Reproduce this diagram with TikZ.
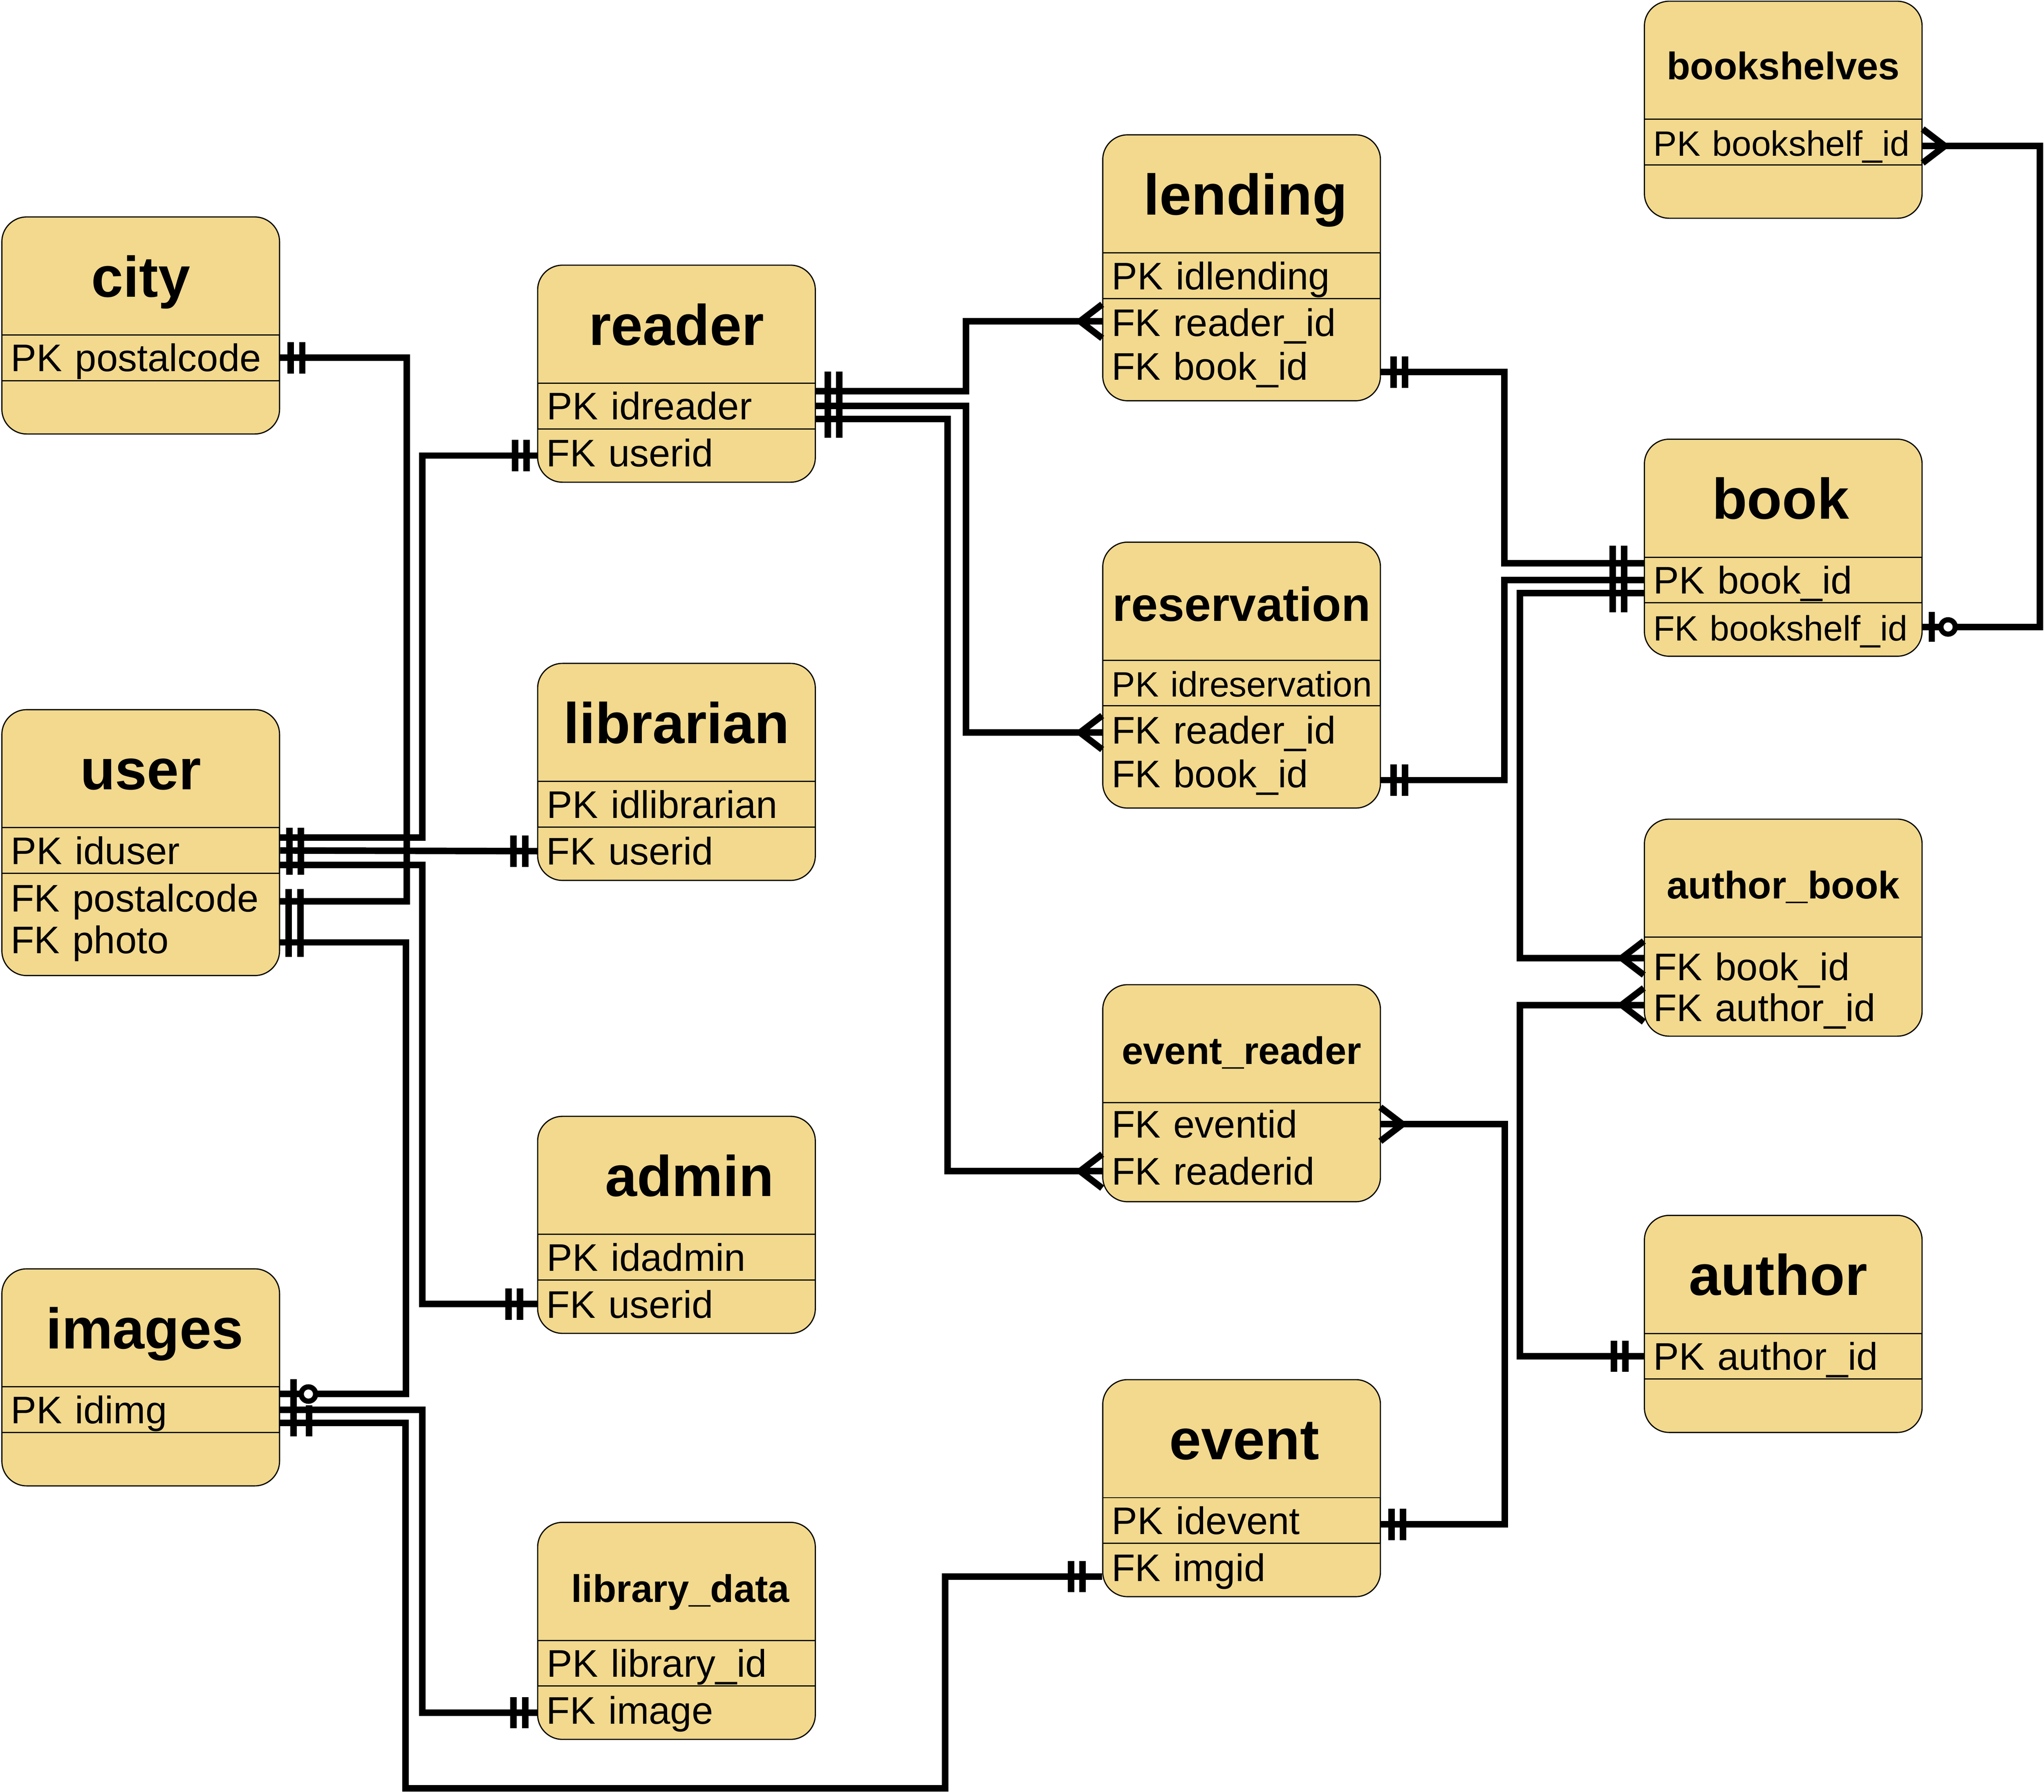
\documentclass[tikz,border=0pt]{standalone}
\usepackage{fontspec}
\setmainfont{Liberation Sans}
\usetikzlibrary{calc}
\definecolor{tabfill}{RGB}{242,217,142}
\newcommand\fieldfont{\fontsize{29.5}{34}\selectfont}
\newcommand\fieldfontnarrow{\fontsize{27}{32}\selectfont}
\newcommand\titlebig{\fontsize{44}{50}\selectfont\bfseries}
\newcommand\titlemid{\fontsize{36.7}{42}\selectfont\bfseries}
\newcommand\titlesmall{\fontsize{29.5}{34}\selectfont\bfseries}
\tikzset{
  tab/.style={draw, line width=0.9pt, fill=tabfill, rounded corners=19pt, minimum width=213pt, minimum height=166.5pt, anchor=north west, inner sep=0pt},
  fkrow/.style={anchor=west, text width=199pt, inner xsep=7pt, inner ysep=0pt, align=left, font=\fieldfont, text height=21.1pt, text depth=0pt},
  pkrow/.style={fkrow, draw, line width=0.9pt, minimum height=35pt},
  narrow/.style={font=\fieldfontnarrow},
  ttl/.style={inner sep=0pt, text depth=0pt},
  ttlbig/.style={ttl, font=\titlebig, text height=31.5pt},
  ttlmid/.style={ttl, font=\titlemid, text height=26.3pt},
  ttlsmall/.style={ttl, font=\titlesmall, text height=21.1pt},
  sepline/.style={line width=0.9pt},
  rel/.style={line width=5pt},
  endmark/.style={line width=5pt},
  pics/crowfoot/.style={code={\draw[endmark] (0,-13) -- (17,0) -- (0,13);}},
  pics/onebars/.style={code={\draw[endmark] (0,-#1) -- (0,#1) (9,-#1) -- (9,#1);}},
  pics/zeroone/.style={code={\draw[endmark] (0,-11.5) -- (0,11.5); \draw[endmark, line width=4pt, fill=white] (12.5,0) circle (5.5pt);}}
}
\begin{document}
\begin{tikzpicture}[x=1pt,y=-1pt]
\useasboundingbox (0,0) rectangle (1568,1374.6);

\node[tab] (city) at (1,166) {};
\node[ttlbig] (city-t) at ($(city.north)+(0,46)$) {city};
\node[pkrow] (city-pk) at ($(city.north west)+(0,108.5)$) {PK postalcode};

\node[tab] (reader) at (412,203) {};
\node[ttlbig] (reader-t) at ($(reader.north)+(0,46)$) {reader};
\node[pkrow] (reader-pk) at ($(reader.north west)+(0,108.5)$) {PK idreader};
\node[fkrow] (reader-fk) at ($(reader.north west)+(0,144.5)$) {FK userid};

\node[tab, minimum height=204pt] (user) at (1,544) {};
\node[ttlbig] (user-t) at ($(user.north)+(0,46)$) {user};
\node[pkrow] (user-pk) at ($(user.north west)+(0,108.5)$) {PK iduser};
\node[fkrow] (user-fk1) at ($(user.north west)+(0,145)$) {FK postalcode};
\node[fkrow] (user-fk2) at ($(user.north west)+(0,177)$) {FK photo};

\node[tab] (librarian) at (412,508.5) {};
\node[ttlbig] (librarian-t) at ($(librarian.north)+(0,46)$) {librarian};
\node[pkrow] (librarian-pk) at ($(librarian.north west)+(0,108.5)$) {PK idlibrarian};
\node[fkrow] (librarian-fk) at ($(librarian.north west)+(0,144.5)$) {FK userid};

\node[tab] (admin) at (412,856) {};
\node[ttlbig] (admin-t) at ($(admin.north)+(10,46)$) {admin};
\node[pkrow] (admin-pk) at ($(admin.north west)+(0,108.5)$) {PK idadmin};
\node[fkrow] (admin-fk) at ($(admin.north west)+(0,144.5)$) {FK userid};

\node[tab] (images) at (1,973) {};
\node[ttlbig] (images-t) at ($(images.north)+(3,46)$) {images};
\node[pkrow] (images-pk) at ($(images.north west)+(0,108.5)$) {PK idimg};

\node[tab] (libdata) at (412,1167.5) {};
\node[ttlsmall] (libdata-t) at ($(libdata.north)+(3,51)$) {library\_data};
\node[pkrow] (libdata-pk) at ($(libdata.north west)+(0,108.5)$) {PK library\_id};
\node[fkrow] (libdata-fk) at ($(libdata.north west)+(0,144.5)$) {FK image};

\node[tab, minimum height=204pt] (lending) at (845.5,103) {};
\node[ttlbig] (lending-t) at ($(lending.north)+(3,46)$) {lending};
\node[pkrow] (lending-pk) at ($(lending.north west)+(0,108.5)$) {PK idlending};
\node[fkrow] (lending-fk1) at ($(lending.north west)+(0,144.5)$) {FK reader\_id};
\node[fkrow] (lending-fk2) at ($(lending.north west)+(0,178)$) {FK book\_id};

\node[tab, minimum height=204pt] (reservation) at (845.5,415.5) {};
\node[ttlmid] (reservation-t) at ($(reservation.north)+(0,48)$) {reservation};
\node[pkrow, narrow] (reservation-pk) at ($(reservation.north west)+(0,108.5)$) {\mbox{PK idreservation}};
\node[fkrow] (reservation-fk1) at ($(reservation.north west)+(0,144.5)$) {FK reader\_id};
\node[fkrow] (reservation-fk2) at ($(reservation.north west)+(0,178)$) {FK book\_id};

\node[tab] (evreader) at (845.5,755) {};
\node[ttlsmall] (evreader-t) at ($(evreader.north)+(0,51)$) {event\_reader};
\draw[sepline] ($(evreader.north west)+(0,91)$) -- ++(213,0);
\node[fkrow] (evreader-fk1) at ($(evreader.north west)+(0,107.5)$) {FK eventid};
\node[fkrow] (evreader-fk2) at ($(evreader.north west)+(0,143.5)$) {FK readerid};

\node[tab] (event) at (845.5,1058) {};
\node[ttlbig] (event-t) at ($(event.north)+(2,46)$) {event};
\node[pkrow] (event-pk) at ($(event.north west)+(0,108.5)$) {PK idevent};
\node[fkrow] (event-fk) at ($(event.north west)+(0,144.5)$) {FK imgid};

\node[tab] (shelves) at (1261,0.5) {};
\node[ttlsmall] (shelves-t) at ($(shelves.north)+(0,50)$) {bookshelves};
\node[pkrow, narrow] (shelves-pk) at ($(shelves.north west)+(0,108.5)$) {\mbox{PK bookshelf\_id}};

\node[tab] (book) at (1261,336.5) {};
\node[ttlbig] (book-t) at ($(book.north)+(-2,46)$) {book};
\node[pkrow] (book-pk) at ($(book.north west)+(0,108.5)$) {PK book\_id};
\node[fkrow, narrow] (book-fk) at ($(book.north west)+(0,144.5)$) {\mbox{FK bookshelf\_id}};

\node[tab] (authbook) at (1261,628) {};
\node[ttlsmall] (authbook-t) at ($(authbook.north)+(0,51)$) {author\_book};
\draw[sepline] ($(authbook.north west)+(0,91)$) -- ++(213,0);
\node[fkrow] (authbook-fk1) at ($(authbook.north west)+(0,113.5)$) {FK book\_id};
\node[fkrow] (authbook-fk2) at ($(authbook.north west)+(0,145)$) {FK author\_id};

\node[tab] (author) at (1261,932) {};
\node[ttlbig] (author-t) at ($(author.north)+(-4,46)$) {author};
\node[pkrow] (author-pk) at ($(author.north west)+(0,108.5)$) {PK author\_id};

\draw[rel] (city-pk.east) -- ++(97,0) |- ($(user-fk1.east)+(0,2.5)$);
\draw[rel] ($(user-pk.east)+(0,-10)$) -- ++(109,0) |- ($(reader-fk.west)+(0,2)$);
\draw[rel] (user-pk.east) -- (librarian-fk.west);
\draw[rel] ($(user-pk.east)+(0,11)$) -- ++(109,0) |- (admin-fk.west);
\draw[rel] ($(user-fk2.east)+(0,2)$) -- ++(97,0) |- ($(images-pk.east)+(0,-12)$);
\draw[rel] (images-pk.east) -- ++(109,0) |- ($(libdata-fk.west)+(0,2)$);
\draw[rel] ($(images-pk.east)+(0,10)$) -| (311,1372) -| ($(event-fk.west)+(-120.5,7)$) -- ($(event-fk.west)+(0,7)$);
\draw[rel] ($(reader-pk.east)+(0,-11.5)$) -- ++(115,0) |- ($(lending-fk1.west)+(0,-1)$);
\draw[rel] (reader-pk.east) -- ++(115,0) |- ($(reservation-fk1.west)+(0,2)$);
\draw[rel] ($(reader-pk.east)+(0,10)$) -- ++(101,0) |- (evreader-fk2.west);
\draw[rel] ($(lending-fk2.east)+(0,4.5)$) -- ++(95,0) |- ($(book-pk.west)+(0,-13)$);
\draw[rel] ($(reservation-fk2.east)+(0,5)$) -- ++(95,0) |- (book-pk.west);
\draw[rel] ($(authbook-fk1.west)+(0,-6.5)$) -- ++(-95,0) |- ($(book-pk.west)+(0,10)$);
\draw[rel] (author-pk.west) -- ++(-95,0) |- ($(authbook-fk2.west)+(0,-2)$);
\draw[rel] ($(event-pk.east)+(0,3)$) -- ++(95,0) |- (evreader-fk1.east);
\draw[rel] ($(shelves-pk.east)+(0,3)$) -- ++(90,0) |- (book-fk.east);

\path ($(city-pk.east)+(8,0)$) pic {onebars=12};
\path ($(user-pk.east)+(7,0.5)$) pic {onebars=18};
\path ($(user-fk1.east)+(7,19)$) pic {onebars=26};
\path ($(reader-pk.east)+(9,-1)$) pic {onebars=25.5};
\path ($(lending-fk2.east)+(10,4.5)$) pic {onebars=12};
\path ($(reservation-fk2.east)+(10,5)$) pic {onebars=12};
\path ($(event-pk.east)+(8,3)$) pic {onebars=12};
\path ($(book-fk.east)+(7.5,0)$) pic {zeroone};
\path ($(shelves-pk.east)+(0,3)$) pic {crowfoot};
\path (evreader-fk1.east) pic {crowfoot};

\path ($(reader-fk.west)+(-8,2)$) pic[rotate=180] {onebars=12};
\path ($(librarian-fk.west)+(-9,0)$) pic[rotate=180] {onebars=12};
\path ($(admin-fk.west)+(-13,0)$) pic[rotate=180] {onebars=12};
\path ($(libdata-fk.west)+(-9,2)$) pic[rotate=180] {onebars=12};
\path ($(event-fk.west)+(-15,7)$) pic[rotate=180] {onebars=12};
\path ($(book-pk.west)+(-15,-0.7)$) pic[rotate=180] {onebars=25.5};
\path ($(author-pk.west)+(-14,0)$) pic[rotate=180] {onebars=12};
\path ($(lending-fk1.west)+(0,-1)$) pic[rotate=180] {crowfoot};
\path ($(reservation-fk1.west)+(0,2)$) pic[rotate=180] {crowfoot};
\path (evreader-fk2.west) pic[rotate=180] {crowfoot};
\path ($(authbook-fk1.west)+(0,-6.5)$) pic[rotate=180] {crowfoot};
\path ($(authbook-fk2.west)+(0,-2)$) pic[rotate=180] {crowfoot};

\draw[endmark] ($(images-pk.east)+(10.3,-23.5)$) -- ++(0,44) ($(images-pk.east)+(22.2,-3.5)$) -- ++(0,24);
\draw[endmark, line width=4pt, fill=white] ($(images-pk.east)+(21.7,-12)$) circle (5.5pt);
\end{tikzpicture}
\end{document}
